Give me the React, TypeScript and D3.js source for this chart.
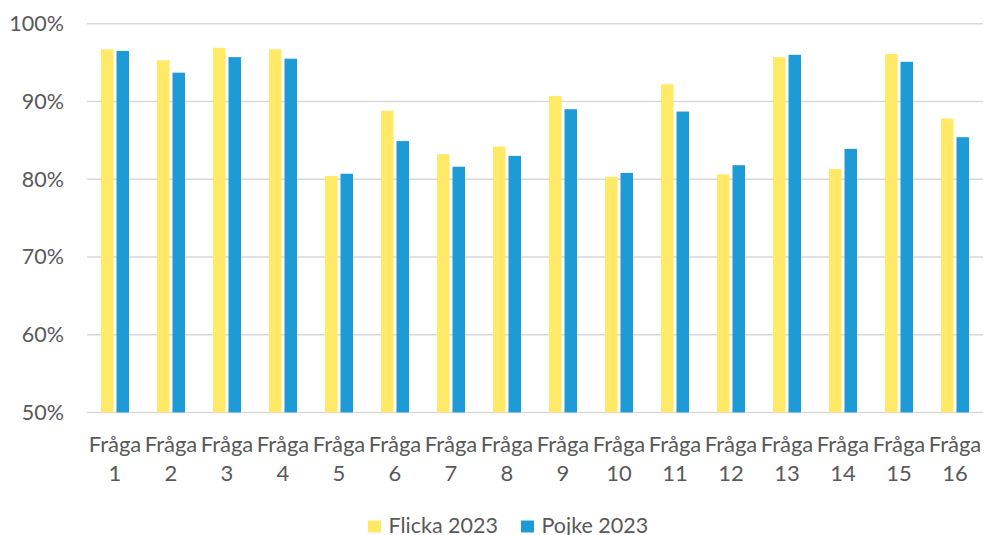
import React, { useEffect, useRef } from 'react';
import * as d3 from 'd3';

const categories = ['1', '2', '3', '4', '5', '6', '7', '8', '9', '10', '11', '12', '13', '14', '15', '16'];
const flicka = [96.7, 95.3, 96.9, 96.7, 80.4, 88.8, 83.2, 84.2, 90.7, 80.3, 92.2, 80.6, 95.7, 81.3, 96.1, 87.8];
const pojke = [96.5, 93.7, 95.7, 95.5, 80.7, 84.9, 81.6, 83.0, 89.0, 80.8, 88.7, 81.8, 96.0, 83.9, 95.1, 85.4];
const yTicks = [50, 60, 70, 80, 90, 100];
const seriesNames = ['Flicka 2023', 'Pojke 2023'];
const colors = ['#FFE966', '#1E9BD7'];

const W = 986;
const H = 535;
const FONT = 'Lato, "Open Sans", sans-serif';

const App = () => {
  const svgRef = useRef<SVGSVGElement>(null);

  useEffect(() => {
    const svg = d3.select(svgRef.current);
    svg.selectAll('*').remove();

    const left = 87;
    const right = 983;
    const top = 23.7;
    const bottom = 412.4;

    const x = d3.scaleBand<string>().domain(categories).range([left, right]);
    const y = d3.scaleLinear().domain([50, 100]).range([bottom, top]);
    const barW = 12.5;
    const gap = 3;

    // gridlines
    svg.append('g')
      .selectAll('line')
      .data(yTicks)
      .enter()
      .append('line')
      .attr('x1', left)
      .attr('x2', right)
      .attr('y1', (d) => y(d))
      .attr('y2', (d) => y(d))
      .attr('stroke', '#D9D9D9')
      .attr('stroke-width', 1.5);

    // y labels
    svg.append('g')
      .selectAll('text')
      .data(yTicks)
      .enter()
      .append('text')
      .attr('x', 64)
      .attr('y', (d) => y(d))
      .attr('dy', '0.35em')
      .attr('text-anchor', 'end')
      .attr('font-family', FONT)
      .attr('font-size', 21.5)
      .attr('fill', '#595959')
      .text((d) => `${d}%`);

    // bars
    const series = [flicka, pojke];
    series.forEach((vals, si) => {
      svg.append('g')
        .selectAll('rect')
        .data(vals)
        .enter()
        .append('rect')
        .attr('x', (_, i) => {
          const c = (x(categories[i]) as number) + x.bandwidth() / 2;
          return si === 0 ? c - gap / 2 - barW : c + gap / 2;
        })
        .attr('y', (d) => y(d))
        .attr('width', barW)
        .attr('height', (d) => y(50) - y(d))
        .attr('fill', colors[si]);
    });

    // x labels
    const xl = svg.append('g')
      .selectAll('text')
      .data(categories)
      .enter()
      .append('text')
      .attr('text-anchor', 'middle')
      .attr('font-family', FONT)
      .attr('font-size', 22)
      .attr('fill', '#595959');
    xl.append('tspan')
      .attr('x', (d) => (x(d) as number) + x.bandwidth() / 2)
      .attr('y', 451.5)
      .text('Fråga');
    xl.append('tspan')
      .attr('x', (d) => (x(d) as number) + x.bandwidth() / 2)
      .attr('y', 481)
      .text((d) => d);

    // legend
    const legendX = [368, 521];
    seriesNames.forEach((name, i) => {
      svg.append('rect')
        .attr('x', legendX[i])
        .attr('y', 520.5)
        .attr('width', 13)
        .attr('height', 12)
        .attr('fill', colors[i]);
      svg.append('text')
        .attr('x', legendX[i] + 20.5)
        .attr('y', 532.5)
        .attr('font-family', FONT)
        .attr('font-size', 21.5)
        .attr('fill', '#595959')
        .text(name);
    });
  }, []);

  return (
    <svg
      ref={svgRef}
      width={W}
      height={H}
      style={{ position: 'absolute', left: 0, top: 0, background: '#fff' }}
    />
  );
};

export default App;
